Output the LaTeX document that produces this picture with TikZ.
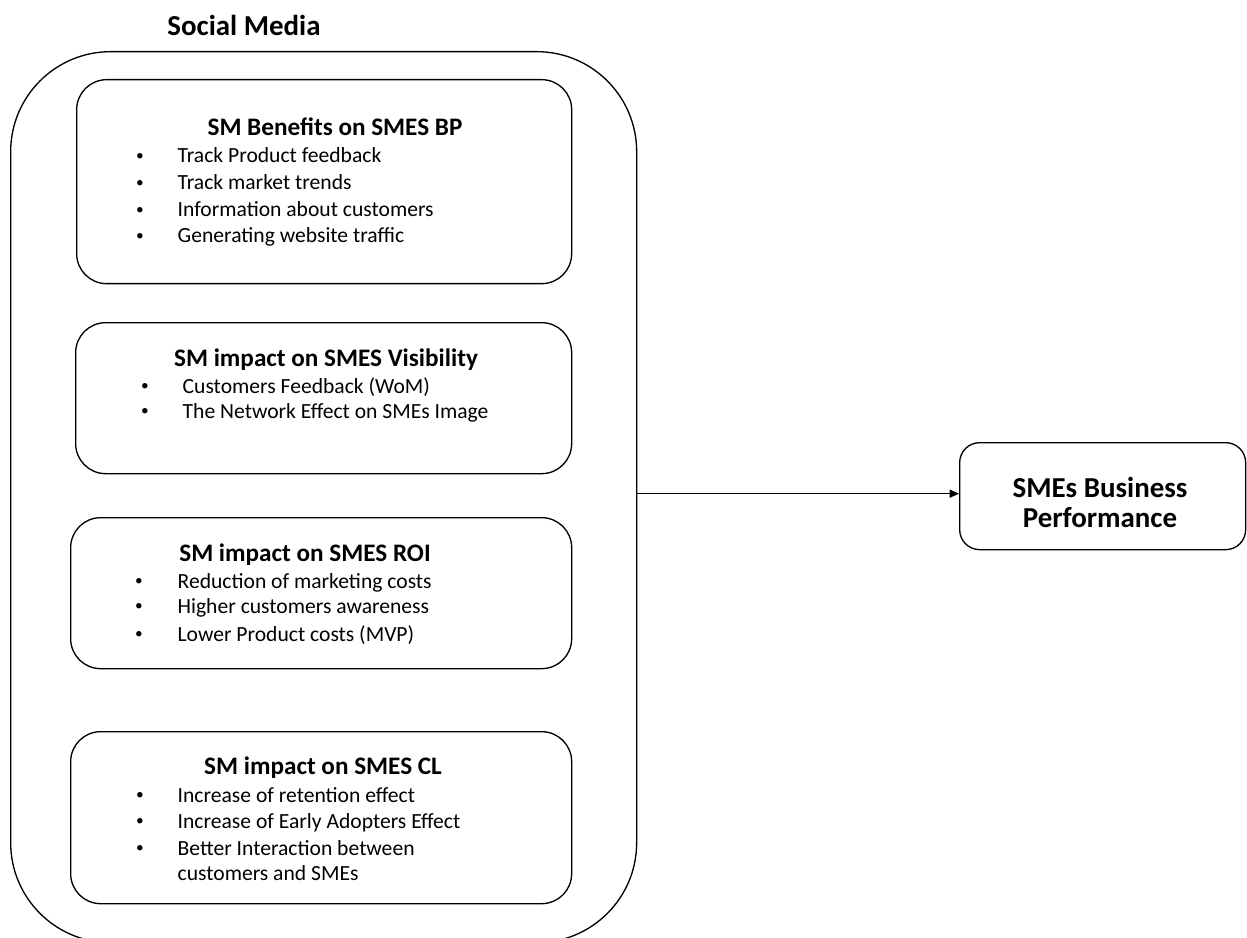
\documentclass[tikz,border=0pt]{standalone}
\usepackage{fontspec}
\setmainfont{Carlito}
\usetikzlibrary{arrows.meta}
\begin{document}
\begin{tikzpicture}[x=0.75pt,y=-0.75pt,
  line width=1pt,
  frame/.style={draw, rounded corners=22.5pt, inner sep=0pt, anchor=north west},
  title/.style={font=\fontsize{21.7}{26}\selectfont\bfseries, anchor=base, inner sep=0pt},
  head/.style={font=\fontsize{18.9}{23}\selectfont\bfseries, anchor=base, inner sep=0pt},
  bul/.style={font=\fontsize{11.5}{14}\selectfont, anchor=base, inner sep=0pt, yshift=1.6pt},
  item/.style={font=\fontsize{16.2}{20}\selectfont, anchor=base west, inner sep=0pt},
  arr/.style={-{Triangle[length=7pt,width=6pt]}}
]
\useasboundingbox (0,0) rectangle (1247,938);
\clip (0,0) rectangle (1247,938);

% title
\node[title] (smtitle) at (244,36) {Social Media};

% outer frame
\node[frame, rounded corners=75pt, minimum width=469.5pt, minimum height=668.25pt] (outer) at (10,51) {};

% box 1
\node[frame, minimum width=371.25pt, minimum height=153pt] (b1) at (76,79) {};
\node[head] (h1) at (335,136) {SM Benefits on SMES BP};
\node[bul] (b1d1) at (140,163) {•};
\node[item] (b1t1) at (177,163) {Track Product feedback};
\node[bul] (b1d2) at (140,190) {•};
\node[item] (b1t2) at (177,190) {Track market trends};
\node[bul] (b1d3) at (140,217) {•};
\node[item] (b1t3) at (177,217) {Information about customers};
\node[bul] (b1d4) at (140,243) {•};
\node[item] (b1t4) at (177,243) {Generating website traffic};

% box 2
\node[frame, minimum width=372pt, minimum height=113.25pt] (b2) at (75,322) {};
\node[head] (h2) at (326,366) {SM impact on SMES Visibility};
\node[bul] (b2d1) at (145,393) {•};
\node[item] (b2t1) at (182,393) {Customers Feedback (WoM)};
\node[bul] (b2d2) at (145,418) {•};
\node[item] (b2t2) at (182,418) {The Network Effect on SMEs Image};

% box 3
\node[frame, minimum width=375.75pt, minimum height=113.25pt] (b3) at (70,517) {};
\node[head] (h3) at (305,561) {SM impact on SMES ROI};
\node[bul] (b3d1) at (139,588) {•};
\node[item] (b3t1) at (177,588) {Reduction of marketing costs};
\node[bul] (b3d2) at (139,613) {•};
\node[item] (b3t2) at (177,613) {Higher customers awareness};
\node[bul] (b3d3) at (139,641) {•};
\node[item] (b3t3) at (177,641) {Lower Product costs (MVP)};

% box 4
\node[frame, minimum width=375.75pt, minimum height=129pt] (b4) at (70,731) {};
\node[head] (h4) at (323,774) {SM impact on SMES CL};
\node[bul] (b4d1) at (140,802) {•};
\node[item] (b4t1) at (177,802) {Increase of retention effect};
\node[bul] (b4d2) at (140,828) {•};
\node[item] (b4t2) at (177,828) {Increase of Early Adopters Effect};
\node[bul] (b4d3) at (140,855) {•};
\node[item] (b4t3) at (177,855) {Better Interaction between};
\node[item] (b4t4) at (177,880) {customers and SMEs};

% performance box
\node[frame, rounded corners=15pt, minimum width=214.5pt, minimum height=80.25pt] (perf) at (959,442) {};
\node[title] (p1) at (1100,497) {SMEs Business};
\node[title] (p2) at (1100,527) {Performance};

% connector
\coordinate (start) at ([yshift=2.6pt]outer.east);
\draw[arr] (start) -- (start -| perf.west);
\end{tikzpicture}
\end{document}
